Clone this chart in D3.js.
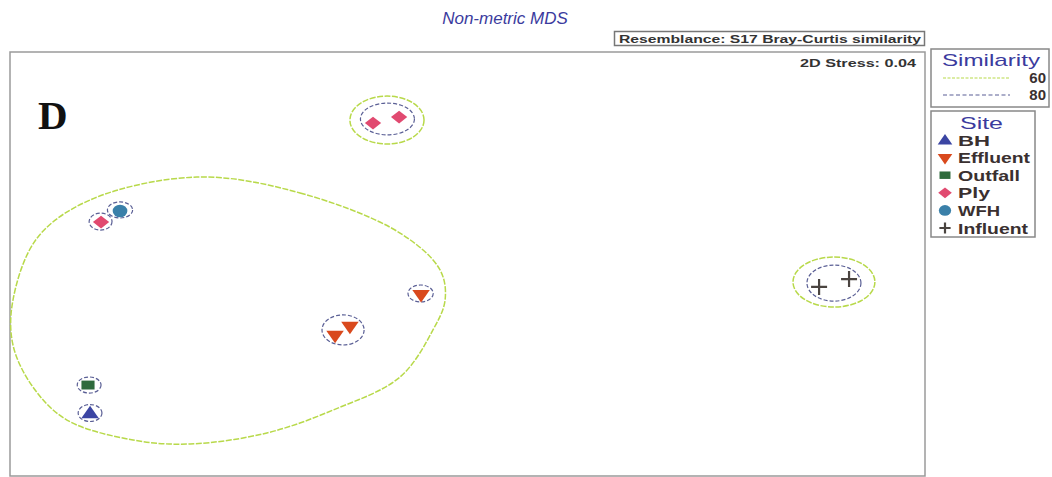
<!DOCTYPE html>
<html>
<head>
<meta charset="utf-8">
<script src="https://cdn.jsdelivr.net/npm/d3@7"></script>
<style>
  body { margin: 0; background: #fff; }
  svg { display: block; font-family: "Liberation Sans", Arial, sans-serif; }
</style>
</head>
<body>
<svg id="chart" width="1052" height="477"></svg>
<script>
// MDS sample coordinates (arbitrary MDS units)
const sites = ["Ply", "Ply", "Ply", "WFH", "Effluent", "Effluent", "Effluent", "Outfall", "BH", "Influent", "Influent"];
const mdsX = [-0.413, -0.299, -1.602, -1.519, -0.203, -0.579, -0.514, -1.659, -1.650, 1.537, 1.668];
const mdsY = [0.665, 0.693, 0.198, 0.250, -0.142, -0.335, -0.292, -0.571, -0.703, -0.108, -0.071];

// legend order
const siteNames = ["BH", "Effluent", "Outfall", "Ply", "WFH", "Influent"];
const siteColors = ["#3b45a3", "#d9491d", "#2f6b3c", "#e14a70", "#3a80a9", "#4a4440"];

// 80% similarity clusters: centre and radii in MDS units
const c80 = [
  [-0.350, 0.684, 0.118, 0.075],
  [-1.604, 0.200, 0.050, 0.040],
  [-1.519, 0.255, 0.055, 0.038],
  [-0.205, -0.139, 0.055, 0.040],
  [-0.544, -0.311, 0.092, 0.071],
  [-1.654, -0.571, 0.052, 0.038],
  [-1.650, -0.703, 0.052, 0.040],
  [1.602, -0.090, 0.118, 0.085]
];
// 60% similarity clusters
const c60 = [
  [-0.352, 0.679, 0.162, 0.113],
  [1.602, -0.085, 0.179, 0.118]
];
// outline of the large 60% group
const blob60 = [
  [-1.183, 0.410], [-0.732, 0.335], [-0.295, 0.146], [-0.120, -0.028],
  [-0.098, -0.170], [-0.151, -0.311], [-0.295, -0.533], [-0.588, -0.689],
  [-0.877, -0.797], [-1.213, -0.849], [-1.462, -0.830], [-1.751, -0.736],
  [-1.900, -0.580], [-1.987, -0.382], [-1.987, -0.170], [-1.881, 0.123],
  [-1.650, 0.302]
];

const svg = d3.select("#chart");
const plot = { left: 10, top: 52, right: 925, bottom: 476 };

const x = d3.scaleLinear().domain([-2, 2]).range([plot.left, plot.right]);
const y = d3.scaleLinear().domain([-1, 1]).range([plot.bottom, plot.top]);

const green = "#b8d94a";
const dashCol = "#5a5f95";

// title
svg.append("text")
  .attr("x", 505).attr("y", 24)
  .attr("text-anchor", "middle")
  .attr("font-size", 17).attr("font-style", "italic")
  .attr("fill", "#3b3b9e")
  .text("Non-metric MDS");

// resemblance box
svg.append("rect")
  .attr("x", 614.5).attr("y", 31.5).attr("width", 310).attr("height", 14)
  .attr("fill", "#fff").attr("stroke", "#777").attr("stroke-width", 1.5);
svg.append("text")
  .attr("x", 619).attr("y", 42.5)
  .attr("font-size", 10.5).attr("font-weight", "bold").attr("fill", "#333")
  .attr("textLength", 302).attr("lengthAdjust", "spacingAndGlyphs")
  .text("Resemblance: S17 Bray-Curtis similarity");

// plot frame
svg.append("rect")
  .attr("x", plot.left).attr("y", plot.top)
  .attr("width", plot.right - plot.left).attr("height", plot.bottom - plot.top)
  .attr("fill", "none").attr("stroke", "#9a9a9a").attr("stroke-width", 1.5);

svg.append("text")
  .attr("x", 916).attr("y", 67)
  .attr("text-anchor", "end")
  .attr("font-size", 11).attr("font-weight", "bold").attr("fill", "#333")
  .attr("textLength", 116).attr("lengthAdjust", "spacingAndGlyphs")
  .text("2D Stress: 0.04");

svg.append("text")
  .attr("x", 38).attr("y", 129)
  .attr("font-family", "'Liberation Serif', 'Times New Roman', serif")
  .attr("font-size", 41).attr("font-weight", "bold").attr("fill", "#111")
  .text("D");

const g = svg.append("g");

// 60% contours
const blobLine = d3.line()
  .x(d => x(d[0])).y(d => y(d[1]))
  .curve(d3.curveCatmullRomClosed.alpha(0.5));
g.append("path")
  .attr("d", blobLine(blob60))
  .attr("fill", "none").attr("stroke", green).attr("stroke-width", 1.5)
  .attr("stroke-dasharray", "6,1.5");

g.selectAll(".c60").data(c60).enter().append("ellipse")
  .attr("class", "c60")
  .attr("cx", d => x(d[0])).attr("cy", d => y(d[1]))
  .attr("rx", d => x(d[2]) - x(0)).attr("ry", d => y(0) - y(d[3]))
  .attr("fill", "none").attr("stroke", green).attr("stroke-width", 1.5)
  .attr("stroke-dasharray", "6,1.5");

// 80% contours
g.selectAll(".c80").data(c80).enter().append("ellipse")
  .attr("class", "c80")
  .attr("cx", d => x(d[0])).attr("cy", d => y(d[1]))
  .attr("rx", d => x(d[2]) - x(0)).attr("ry", d => y(0) - y(d[3]))
  .attr("fill", "none").attr("stroke", dashCol).attr("stroke-width", 1.2)
  .attr("stroke-dasharray", "4,2");

// marker drawing
function drawMarker(sel, site, cx, cy, k) {
  const col = siteColors[siteNames.indexOf(site)];
  const s = k || 1;
  if (site === "BH") {
    sel.append("path")
      .attr("d", d3.symbol(d3.symbolTriangle, 100 * s)())
      .attr("transform", `translate(${cx},${cy + 1}) scale(1.15,0.95)`)
      .attr("fill", col);
  } else if (site === "Effluent") {
    sel.append("path")
      .attr("d", d3.symbol(d3.symbolTriangle, 100 * s)())
      .attr("transform", `translate(${cx},${cy}) rotate(180) scale(1.15,0.95)`)
      .attr("fill", col);
  } else if (site === "Outfall") {
    sel.append("path")
      .attr("d", d3.symbol(d3.symbolSquare, 110 * s)())
      .attr("transform", `translate(${cx},${cy}) scale(1.25,0.85)`)
      .attr("fill", col);
  } else if (site === "Ply") {
    sel.append("path")
      .attr("d", d3.symbol(d3.symbolSquare, 100 * s)())
      .attr("transform", `translate(${cx},${cy}) scale(1.15,0.9) rotate(45)`)
      .attr("fill", col);
  } else if (site === "WFH") {
    sel.append("path")
      .attr("d", d3.symbol(d3.symbolCircle, 140 * s)())
      .attr("transform", `translate(${cx},${cy}) scale(1.1,0.95)`)
      .attr("fill", col);
  } else {
    sel.append("path")
      .attr("d", `M${-8 * s},0H${8 * s}M0,${-8 * s}V${8 * s}`)
      .attr("transform", `translate(${cx},${cy})`)
      .attr("stroke", col).attr("stroke-width", 2.2).attr("fill", "none");
  }
}

sites.forEach((s, i) => drawMarker(g, s, x(mdsX[i]), y(mdsY[i])));

// Similarity legend
const leg1 = svg.append("g");
leg1.append("rect")
  .attr("x", 931).attr("y", 49).attr("width", 118).attr("height", 58)
  .attr("fill", "#fff").attr("stroke", "#888").attr("stroke-width", 1.5);
leg1.append("text")
  .attr("x", 942).attr("y", 66)
  .attr("font-size", 17).attr("fill", "#3b3b9e")
  .attr("textLength", 98).attr("lengthAdjust", "spacingAndGlyphs")
  .text("Similarity");
const simLevels = ["60", "80"];
const simStyles = [{ c: green, d: "3,1.5" }, { c: dashCol, d: "4,2.5" }];
simLevels.forEach((lv, i) => {
  const yy = 78 + i * 17;
  leg1.append("line")
    .attr("x1", 943).attr("x2", 1010).attr("y1", yy).attr("y2", yy)
    .attr("stroke", simStyles[i].c).attr("stroke-width", 1.2)
    .attr("stroke-dasharray", simStyles[i].d);
  leg1.append("text")
    .attr("x", 1046).attr("y", yy + 5)
    .attr("text-anchor", "end").attr("font-size", 15).attr("font-weight", "bold")
    .attr("fill", "#3a3030")
    .text(lv);
});

// Site legend
const leg2 = svg.append("g");
leg2.append("rect")
  .attr("x", 931).attr("y", 111).attr("width", 104).attr("height", 126)
  .attr("fill", "#fff").attr("stroke", "#888").attr("stroke-width", 1.5);
leg2.append("text")
  .attr("x", 960).attr("y", 129)
  .attr("font-size", 17).attr("fill", "#3b3b9e")
  .attr("textLength", 43).attr("lengthAdjust", "spacingAndGlyphs")
  .text("Site");
const itemWidths = [32, 72, 62, 32, 42, 70];
siteNames.forEach((s, i) => {
  const yy = 140 + i * 17.6;
  drawMarker(leg2, s, 945, yy, 0.7);
  leg2.append("text")
    .attr("x", 958).attr("y", yy + 5.5)
    .attr("font-size", 15).attr("font-weight", "bold").attr("fill", "#3a3030")
    .attr("textLength", itemWidths[i]).attr("lengthAdjust", "spacingAndGlyphs")
    .text(s);
});
</script>
</body>
</html>
